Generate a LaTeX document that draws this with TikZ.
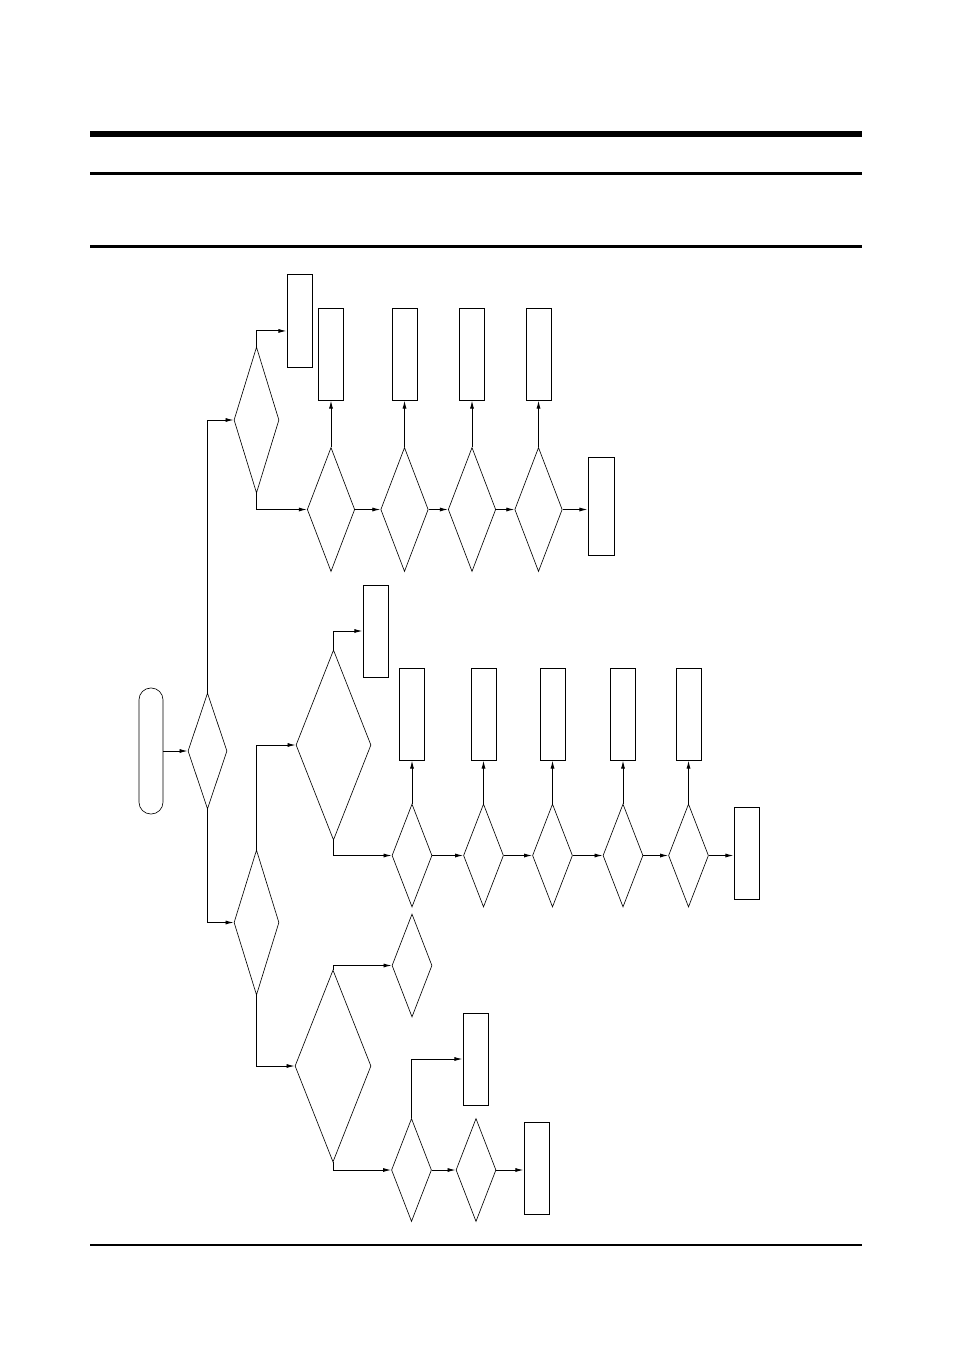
\documentclass[tikz,border=0pt]{standalone}
\usetikzlibrary{shapes.geometric,arrows.meta}
\begin{document}
\begin{tikzpicture}[x=0.22mm,y=-0.22mm,>={Latex[length=1.8mm,width=0.9mm]},
  decision/.style 2 args={diamond,draw,line width=.4pt,inner sep=0pt,minimum width=#1,minimum height=#2},
  block/.style={draw,line width=.6pt,inner sep=0pt,minimum width=5.5mm,minimum height=20.24mm},
  terminal/.style={draw,line width=.4pt,rounded corners=2.6mm,inner sep=0pt,minimum width=5.28mm,minimum height=27.72mm},
  flow/.style={->,line width=.6pt}]
\useasboundingbox (0,0) rectangle (954,1351);
% page rules
\draw[line width=1.21mm](90,134)--(862,134);
\draw[line width=.66mm](90,174)--(862,174);
\draw[line width=.66mm](90,246.5)--(862,246.5);
\draw[line width=.3mm](90,1245)--(862,1245);
% start
\node[terminal](start) at (151,751) {};
\node[decision={8.58mm}{25.52mm}](d1) at (207.5,751) {};
\draw[flow](start.east)--(d1.west);
% upper branch
\node[decision={9.9mm}{32.12mm}](d2) at (256.5,420) {};
\node[block,minimum height=20.46mm](b2) at (299.5,320.5) {};
\draw[flow](d1.north) |- (d2.west);
\draw[flow](d2.north) |- ([yshift=-2.3mm]b2.west);
\foreach \n/\x in {3/331,4/404.5,5/472,6/538.5}{
  \node[decision={10.45mm}{27.28mm}](d\n) at (\x,509.5) {};
  \node[block](b\n) at (\x,354) {};
  \draw[flow](d\n.north)--(b\n.south);
}
\draw[flow](d2.south) |- (d3.west);
\foreach \a/\b in {3/4,4/5,5/6}
  \draw[flow](d\a.east)--(d\b.west);
\node[block,minimum width=5.72mm,minimum height=21.56mm](b7) at (601,506) {};
\draw[flow](d6.east)--(d6.east -| b7.west);
% lower branch
\node[decision={9.9mm}{31.9mm}](d7) at (256.5,922.5) {};
\draw[flow](d1.south) |- (d7.west);
\node[decision={16.5mm}{41.8mm}](d8) at (333.5,745) {};
\draw[flow](d7.north) |- (d8.west);
\node[block](b8) at (375.5,631) {};
\draw[flow](d8.north) |- (b8.west);
\foreach \n/\x in {9/412,10/483.5,11/552.5,12/623,13/688.5}{
  \node[decision={8.8mm}{22.66mm}](d\n) at (\x,855.5) {};
  \node[block](b\n) at (\x,714) {};
  \draw[flow](d\n.north)--(b\n.south);
}
\draw[flow](d8.south) |- (d9.west);
\foreach \a/\b in {9/10,10/11,11/12,12/13}
  \draw[flow](d\a.east)--(d\b.west);
\node[block](b14) at (746.5,853) {};
\draw[flow](d13.east)--(d13.east -| b14.west);
% bottom branch
\node[decision={16.72mm}{42.24mm}](d14) at (333,1066) {};
\draw[flow](d7.south) |- (d14.west);
\node[decision={8.8mm}{22.66mm}](d15) at (412,965.5) {};
\draw[flow](d14.north) |- (d15.west);
\node[decision={8.8mm}{22.66mm}](d16) at (411.5,1170) {};
\draw[flow](d14.south) |- (d16.west);
\node[block](b16) at (475.5,1059) {};
\draw[flow](d16.north) |- (b16.west);
\node[decision={8.8mm}{22.66mm}](d17) at (476,1170) {};
\draw[flow](d16.east)--(d17.west);
\node[block](b17) at (536.5,1168) {};
\draw[flow](d17.east)--(d17.east -| b17.west);
\end{tikzpicture}
\end{document}
